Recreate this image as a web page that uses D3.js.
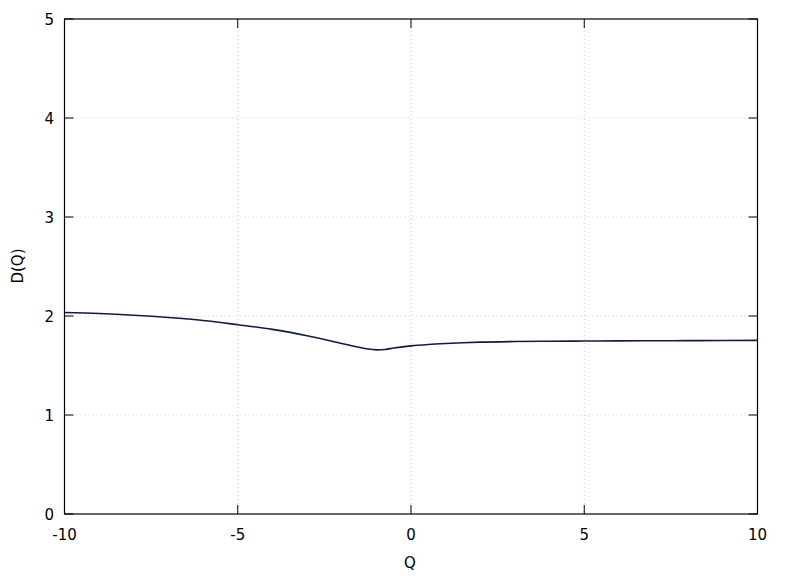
<!DOCTYPE html>
<html>
<head>
<meta charset="utf-8">
<script src="https://cdn.jsdelivr.net/npm/d3@7"></script>
<style>
  html, body { margin: 0; padding: 0; background: #fff; }
  text { font-family: "DejaVu Sans", sans-serif; font-size: 15px; fill: #000; }
</style>
</head>
<body>
<svg id="chart" width="788" height="576"></svg>
<script>
const qValues = [-10, -9, -8, -7, -6, -5, -4, -3, -2.5, -2, -1.5, -1.25, -1, -0.75, -0.5, 0, 0.5, 1, 1.5, 2, 3, 4, 5, 6, 7, 8, 9, 10];
const dValues = [2.035, 2.025, 2.008, 1.985, 1.955, 1.912, 1.865, 1.800, 1.762, 1.722, 1.684, 1.667, 1.658, 1.662, 1.676, 1.698, 1.712, 1.722, 1.730, 1.736, 1.742, 1.745, 1.747, 1.749, 1.750, 1.751, 1.752, 1.754];
const xTicks = [-10, -5, 0, 5, 10];
const yTicks = [0, 1, 2, 3, 4, 5];
const xLabel = "Q";
const yLabel = "D(Q)";

const svg = d3.select("#chart");
const mLeft = 64.5, mRight = 757.5, mTop = 19, mBottom = 514;
const x = d3.scaleLinear().domain([-10, 10]).range([mLeft, mRight]);
const y = d3.scaleLinear().domain([0, 5]).range([mBottom, mTop]);
const tick = 9;

// grid
const grid = svg.append("g").attr("stroke", "#c8c8c8").attr("stroke-width", 1).attr("stroke-dasharray", "1,3");
xTicks.slice(1, -1).forEach(t => {
  grid.append("line").attr("x1", x(t)).attr("x2", x(t)).attr("y1", mTop).attr("y2", mBottom);
});
yTicks.slice(1, -1).forEach(t => {
  grid.append("line").attr("x1", mLeft).attr("x2", mRight).attr("y1", y(t)).attr("y2", y(t));
});

// curve
const data = qValues.map((q, i) => ({q, d: dValues[i]}));
svg.append("path").datum(data)
  .attr("fill", "none").attr("stroke", "#0f1c3c").attr("stroke-width", 1.6)
  .attr("d", d3.line().x(d => x(d.q)).y(d => y(d.d)).curve(d3.curveMonotoneX));

// ticks (inward, mirrored)
const tg = svg.append("g").attr("stroke", "#000").attr("stroke-width", 1);
xTicks.forEach(t => {
  tg.append("line").attr("x1", x(t)).attr("x2", x(t)).attr("y1", mBottom).attr("y2", mBottom - tick);
  tg.append("line").attr("x1", x(t)).attr("x2", x(t)).attr("y1", mTop).attr("y2", mTop + tick);
});
yTicks.forEach(t => {
  tg.append("line").attr("x1", mLeft).attr("x2", mLeft + tick).attr("y1", y(t)).attr("y2", y(t));
  tg.append("line").attr("x1", mRight).attr("x2", mRight - tick).attr("y1", y(t)).attr("y2", y(t));
});

// frame
svg.append("rect").attr("x", mLeft).attr("y", mTop).attr("width", mRight - mLeft).attr("height", mBottom - mTop)
  .attr("fill", "none").attr("stroke", "#000").attr("stroke-width", 1.2);

// tick labels
xTicks.forEach(t => {
  svg.append("text").attr("x", x(t)).attr("y", 540).attr("text-anchor", "middle").text(t);
});
yTicks.forEach(t => {
  svg.append("text").attr("x", 54).attr("y", y(t) + 5.5).attr("text-anchor", "end").text(t);
});

// axis labels
svg.append("text").attr("x", 410).attr("y", 568).attr("text-anchor", "middle").text(xLabel);
svg.append("text").attr("transform", "translate(23,266) rotate(-90)").attr("text-anchor", "middle").text(yLabel);
</script>
</body>
</html>
